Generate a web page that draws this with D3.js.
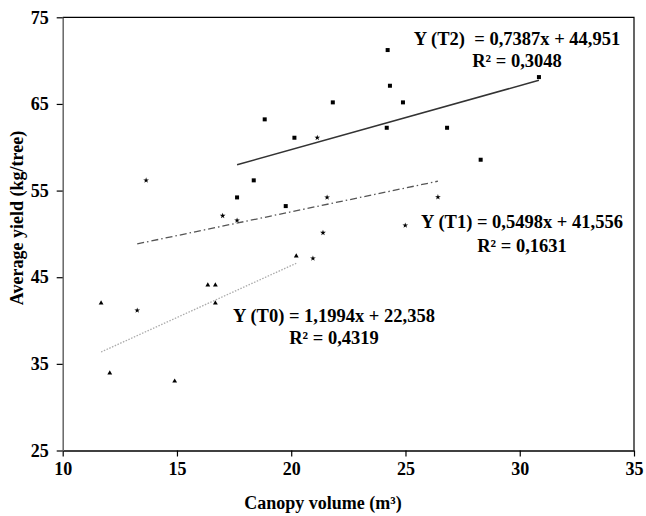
<!DOCTYPE html>
<html>
<head>
<meta charset="utf-8">
<script src="https://cdn.jsdelivr.net/npm/d3@7"></script>
<style>
  body { margin: 0; background: #fff; }
  text { font-family: "Liberation Serif", "Times New Roman", serif; font-weight: bold; white-space: pre; }
</style>
</head>
<body>
<svg id="chart" width="646" height="516"></svg>
<script>
// canopy volume (m3) / average yield (kg/tree)
const t0X = [11.68, 12.06, 14.9, 16.35, 16.68, 16.68, 20.22];
const t0Y = [42.01, 33.93, 33.0, 44.09, 44.09, 42.01, 47.44];

const t1X = [13.26, 13.65, 17.0, 17.63, 21.14, 21.57, 21.39, 20.95, 24.99, 26.42];
const t1Y = [41.17, 56.18, 52.09, 51.56, 61.1, 54.21, 50.13, 47.17, 50.98, 54.25];

const t2X = [17.63, 18.36, 18.84, 19.76, 20.14, 21.82, 24.22, 24.32, 24.89, 24.18, 26.82, 28.29, 30.84];
const t2Y = [54.21, 56.18, 63.22, 53.21, 61.1, 65.18, 71.22, 67.1, 65.18, 62.25, 62.25, 58.56, 68.1];

// trend lines: slope, intercept
const fits = [
  { name: "T0", slope: 1.1994, icept: 22.358 },
  { name: "T1", slope: 0.5498, icept: 41.556 },
  { name: "T2", slope: 0.7387, icept: 44.951 }
];

const xTicks = [10, 15, 20, 25, 30, 35];
const yTicks = [25, 35, 45, 55, 65, 75];

const eqLines = [
  ["Y (T2)  = 0,7387x + 44,951", "R\u00b2 = 0,3048"],
  ["Y (T1) = 0,5498x + 41,556", "R\u00b2 = 0,1631"],
  ["Y (T0) = 1,1994x + 22,358", "R\u00b2 = 0,4319"]
];

const svg = d3.select("#chart");
const mLeft = 62.7, mRight = 634, mTop = 17.3, mBottom = 450.5;

const x = d3.scaleLinear().domain([10, 35]).range([mLeft, mRight]);
const y = d3.scaleLinear().domain([25, 75]).range([mBottom, mTop]);

// frame (top + right)
svg.append("path")
  .attr("d", `M${mLeft},${mTop}H${mRight}V${mBottom}`)
  .attr("fill", "none")
  .attr("stroke", "#000")
  .attr("stroke-width", 1.2);

// x axis
const gx = svg.append("g")
  .attr("transform", `translate(0,${mBottom})`)
  .call(d3.axisBottom(x).tickValues(xTicks).tickSize(6).tickSizeOuter(0).tickPadding(6));
gx.select(".domain").attr("stroke", "#000").attr("stroke-width", 1.4);
gx.selectAll(".tick line").attr("stroke", "#000").attr("stroke-width", 1.2);
gx.selectAll(".tick text")
  .attr("font-size", 18)
  .attr("font-family", "Liberation Serif")
  .attr("fill", "#000");

// y axis
const gy = svg.append("g")
  .attr("transform", `translate(${mLeft},0)`)
  .call(d3.axisLeft(y).tickValues(yTicks).tickSize(6).tickSizeOuter(0).tickPadding(8));
gy.select(".domain").attr("stroke", "#666").attr("stroke-width", 1.5);
gy.selectAll(".tick line").attr("stroke", "#000").attr("stroke-width", 1.2);
gy.selectAll(".tick text")
  .attr("font-size", 18)
  .attr("font-family", "Liberation Serif")
  .attr("fill", "#000");

// axis titles
svg.append("text")
  .attr("x", 323)
  .attr("y", 509)
  .attr("text-anchor", "middle")
  .attr("font-size", 18)
  .text("Canopy volume (m\u00b3)");

svg.append("text")
  .attr("transform", "translate(23,218) rotate(-90)")
  .attr("text-anchor", "middle")
  .attr("font-size", 18)
  .text("Average yield (kg/tree)");

// trend lines over each series' x range
const ranges = [d3.extent(t0X), d3.extent(t1X), d3.extent(t2X)];
const lineStyles = [
  { stroke: "#aaa", width: 1.3, dash: "1.5,1.5" },
  { stroke: "#555", width: 1.3, dash: "7,3,1.5,3" },
  { stroke: "#333", width: 1.5, dash: null }
];
fits.forEach((f, i) => {
  const [x0, x1] = ranges[i];
  svg.append("line")
    .attr("x1", x(x0)).attr("y1", y(f.slope * x0 + f.icept))
    .attr("x2", x(x1)).attr("y2", y(f.slope * x1 + f.icept))
    .attr("stroke", lineStyles[i].stroke)
    .attr("stroke-width", lineStyles[i].width)
    .attr("stroke-dasharray", lineStyles[i].dash);
});

// points
const pts = (xs, ys) => xs.map((v, i) => [v, ys[i]]);

svg.append("g").selectAll("path")
  .data(pts(t0X, t0Y))
  .join("path")
  .attr("transform", d => `translate(${x(d[0])},${y(d[1])})`)
  .attr("d", d3.symbol(d3.symbolTriangle, 10))
  .attr("fill", "#000");

svg.append("g").selectAll("path")
  .data(pts(t1X, t1Y))
  .join("path")
  .attr("transform", d => `translate(${x(d[0])},${y(d[1])})`)
  .attr("d", d3.symbol(d3.symbolStar, 10))
  .attr("fill", "#000");

svg.append("g").selectAll("rect")
  .data(pts(t2X, t2Y))
  .join("rect")
  .attr("x", d => x(d[0]) - 2)
  .attr("y", d => y(d[1]) - 2)
  .attr("width", 4)
  .attr("height", 4)
  .attr("fill", "#000");

// equations
const eqPos = [[517, 45, 67], [522, 228, 251.5], [334, 321.5, 344]];
eqLines.forEach((ln, i) => {
  const [cx, y1, y2] = eqPos[i];
  const t = svg.append("text")
    .attr("text-anchor", "middle")
    .attr("font-size", 18.5);
  t.append("tspan").attr("x", cx).attr("y", y1).text(ln[0]);
  t.append("tspan").attr("x", cx).attr("y", y2).text(ln[1]);
});
</script>
</body>
</html>
